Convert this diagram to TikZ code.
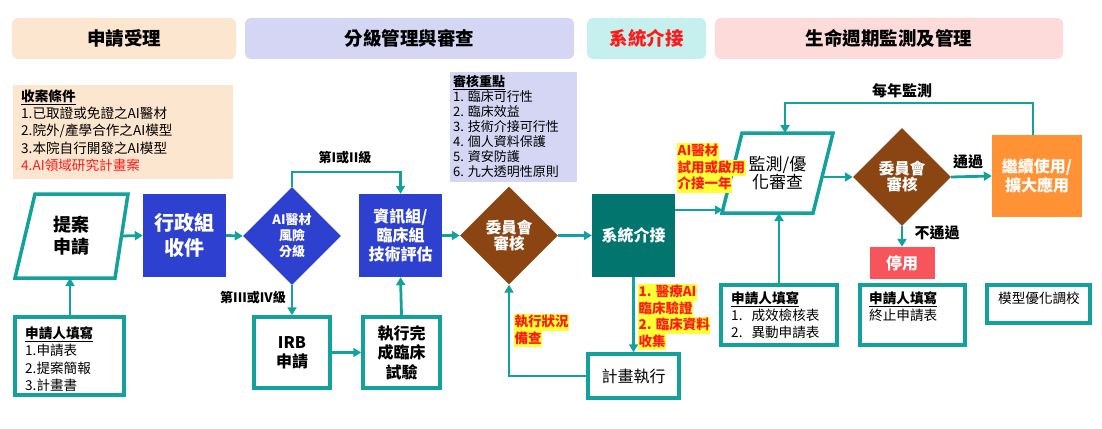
\documentclass[tikz,border=0pt]{standalone}
\usepackage{fontspec}
\setmainfont{Noto Sans CJK TC}
\usetikzlibrary{arrows.meta,shapes.geometric}
\definecolor{tl}{HTML}{13A29B}
\definecolor{bl}{HTML}{2E40CF}
\definecolor{br}{HTML}{8B4513}
\definecolor{dt}{HTML}{03756F}
\definecolor{og}{HTML}{FF9234}
\definecolor{rd}{HTML}{F5555B}
\definecolor{pe}{HTML}{FDE6D0}
\definecolor{lv}{HTML}{D4D6F3}
\definecolor{cy}{HTML}{C6F0EE}
\definecolor{pk}{HTML}{FDDBDB}
\definecolor{rt}{HTML}{FF1A1A}
\definecolor{hy}{HTML}{FFFF33}
\newcommand\fsz[2]{\fontsize{#1pt}{#2pt}\selectfont}
\newcommand\hlbox[1]{{\setlength\fboxsep{0.5pt}\colorbox{hy}{\rule[-3.5pt]{0pt}{15.5pt}#1}}}
\tikzset{
  hdr/.style={rounded corners=6pt, minimum height=41pt, inner sep=0pt, font=\fsz{18.5}{22}\bfseries},
  arr/.style={draw=tl, line width=2.8pt, -{Triangle[length=8pt,width=9pt]}},
  tbox/.style={draw=tl, line width=3.5pt, fill=white, inner sep=0pt},
  para/.style={draw=tl, line width=3.5pt, fill=white, line join=miter},
  solid box/.style={inner sep=0pt, text=white, align=center},
  dia/.style={diamond, shape aspect=1, inner sep=0pt, minimum width=98pt, minimum height=98pt, text=white, align=center},
  txt/.style={anchor=north west, align=left, inner sep=0pt},
  lbl/.style={inner sep=0pt, font=\fsz{13}{15}\bfseries},
  hlab/.style={anchor=north west, inner sep=0pt, align=left, font=\fsz{13.5}{16.5}\bfseries, text=rt}
}
\begin{document}
\begin{tikzpicture}[x=1pt,y=-1pt]
\useasboundingbox (0,0) rectangle (1102,428);
% headers
\node[hdr, fill=pe, minimum width=224pt] (h1) at (124,38.5) {申請受理};
\node[hdr, fill=lv, minimum width=329pt] (h2) at (409.5,38.5) {分級管理與審查};
\node[hdr, fill=cy, minimum width=119pt, text=rt] (h3) at (646.5,38.5) {系統介接};
\node[hdr, fill=pk, minimum width=348pt] (h4) at (889,38.5) {生命週期監測及管理};
% conditions
\node[fill=pe, minimum width=220pt, minimum height=94pt, anchor=north west, inner sep=0pt] (cond) at (13,85) {};
\node[txt, font=\fsz{13.6}{17.3}] (condt) at (21,89.5) {\textbf{\underline{收案條件}}\\1.已取證或免證之AI醫材\\2.院外/產學合作之AI模型\\3.本院自行開發之AI模型\\\textcolor{rt}{4.AI領域研究計畫案}};
% review points
\node[fill=lv, minimum width=127pt, minimum height=110pt, anchor=north west, inner sep=0pt] (rev) at (450,72) {};
\node[txt, font=\fsz{13}{15}] (revt) at (453,75.5) {\textbf{\underline{審核重點}}\\1. 臨床可行性\\2. 臨床效益\\3. 技術介接可行性\\4. 個人資料保護\\5. 資安防護\\6. 九大透明性原則};
% proposal parallelogram
\draw[para] (35,194) -- (128,194) -- (115,278) -- (15,278) -- cycle;
\node[align=center, font=\fsz{18}{22}\bfseries] (tian) at (71.5,236) {提案\\申請};
\coordinate (tianR) at (121.5,236);
\coordinate (tianB) at (70,278);
% applicant box 1
\node[tbox, minimum width=109pt, minimum height=78pt] (sq1) at (69.5,356) {};
\node[txt, font=\fsz{13.6}{17.3}] (sq1t) at (25,326.5) {\textbf{\underline{申請人填寫}}\\1.申請表\\2.提案簡報\\3.計畫書};
% main chain
\node[solid box, fill=bl, minimum width=83pt, minimum height=83pt, font=\fsz{20}{25}\bfseries] (xz) at (184.5,235.5) {行政組\\收件};
\node[dia, fill=bl, font=\fsz{13}{16}\bfseries] (fx) at (292,236) {AI醫材\\風險\\分級};
\node[solid box, fill=bl, minimum width=83pt, minimum height=83pt, font=\fsz{16}{19}\bfseries] (zx) at (400.5,235.5) {資訊組/\\臨床組\\技術評估};
\node[tbox, minimum width=76pt, minimum height=71pt, font=\fsz{16}{19}\bfseries, align=center] (irb) at (292,352.5) {IRB\\申請};
\node[tbox, minimum width=77pt, minimum height=71pt, font=\fsz{16}{19.5}\bfseries, align=center] (wc) at (401.5,352.5) {執行完\\成臨床\\試驗};
\node[dia, fill=br, font=\fsz{15.5}{16}\bfseries] (wy1) at (509,235.5) {委員會\\審核};
\node[solid box, fill=dt, minimum width=83pt, minimum height=83pt, font=\fsz{16}{19}\bfseries] (xt) at (633.5,235.5) {系統介接};
\node[tbox, minimum width=91pt, minimum height=44pt, font=\fsz{16}{19}] (jh) at (633.5,376) {計畫執行};
% monitoring parallelogram
\draw[para] (742,133) -- (833,133) -- (813,213) -- (722,213) -- cycle;
\node[align=center, font=\fsz{17}{18}] (jc) at (777.5,173) {監測/優\\化審查};
\coordinate (jcL) at (722.75,210);
\coordinate (jcR) at (822,177);
\coordinate (jcT) at (785,133);
\coordinate (jcB) at (779,213);
\node[dia, fill=br, font=\fsz{15.5}{16}\bfseries] (wy2) at (902,177) {委員會\\審核};
\node[solid box, fill=og, minimum width=90pt, minimum height=82pt, font=\fsz{16}{19}\bfseries] (jx) at (1037,176) {繼續使用/\\擴大應用};
\node[solid box, fill=rd, minimum width=65pt, minimum height=32pt, font=\fsz{16}{19}\bfseries] (ty) at (902,263) {停用};
% bottom-right boxes
\node[tbox, minimum width=116pt, minimum height=60pt] (sq2) at (779,315) {};
\node[txt, font=\fsz{13.6}{17}] (sq2t) at (731,291.5) {\textbf{\underline{申請人填寫}}\\1.\hspace{9pt}成效檢核表\\2.\hspace{9pt}異動申請表};
\node[tbox, minimum width=105pt, minimum height=60pt] (sq3) at (912.5,315) {};
\node[txt, font=\fsz{13.6}{17}] (sq3t) at (869,291.5) {\textbf{\underline{申請人填寫}}\\終止申請表};
\node[tbox, minimum width=103pt, minimum height=38pt] (mx) at (1038.5,304) {};
\node[txt, font=\fsz{13.6}{17}] (mxt) at (998,291.5) {模型優化調校};
% connectors
\draw[arr] (sq1.north -| tianB) -- (tianB);
\draw[arr] (tianR) -- (xz.west);
\draw[arr] (xz.east) -- (fx.west);
\coordinate (k1) at (292,172);
\draw[arr] (fx.north) -- (k1) -| (zx.north);
\node[lbl] (l1) at (345,158) {第I或II級};
\draw[arr] (fx.south) -- (irb.north);
\node[lbl] (l2) at (253,298) {第III或IV級};
\draw[arr] (irb.east) -- (wc.west);
\draw[arr] (wc.north) -- (zx.south);
\draw[arr] (zx.east) -- (wy1.west);
\draw[arr] (wy1.east) -- (xt.west);
\draw[arr] (xt.south) -- (jh.north);
\draw[arr] (jh.west) -| (wy1.south);
\draw[arr] (xt.east |- jcL) -- (jcL);
\draw[arr] (jcR) -- (wy2.west);
\draw[arr] (wy2.east) -- (jx.west);
\node[inner sep=0pt, font=\fsz{15}{17}\bfseries] (l3) at (968,162) {通過};
\draw[arr] (wy2.south) -- (ty.north);
\node[inner sep=0pt, font=\fsz{15}{17}\bfseries] (l4) at (937,233) {不通過};
\coordinate (k2) at (1033,103);
\draw[arr] (jx.north -| k2) -- (k2) -| (jcT);
\node[inner sep=0pt, font=\fsz{15}{17}\bfseries] (l5) at (902,91) {每年監測};
\draw[arr] (sq2.north) -- (jcB);
% highlighted labels
\node[hlab] (hl1) at (677,143) {\hlbox{AI醫材}\\\hlbox{試用或啟用}\\\hlbox{介接一年}};
\node[hlab] (hl2) at (638,284) {\hlbox{1. 醫療AI}\\\hlbox{臨床驗證}\\\hlbox{2. 臨床資料}\\\hlbox{收集}};
\node[hlab] (hl3) at (514,314) {\hlbox{執行狀況}\\\hlbox{備查}};
\end{tikzpicture}
\end{document}
